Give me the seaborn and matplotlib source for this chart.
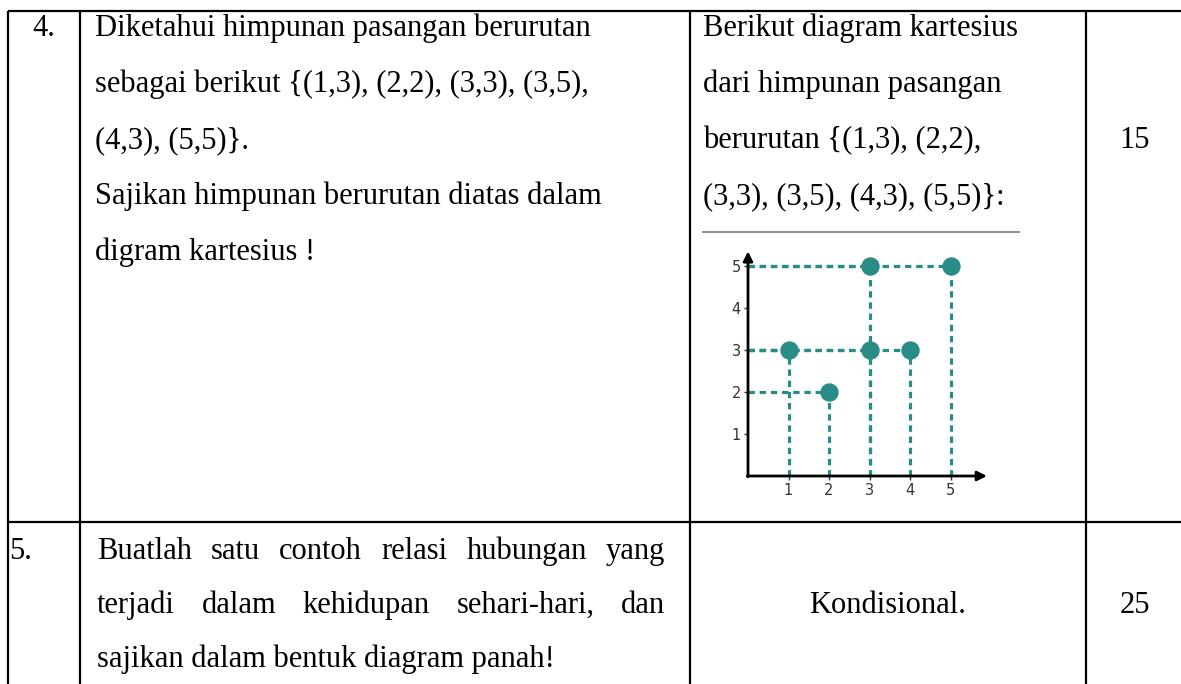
import matplotlib
matplotlib.use('Agg')
import matplotlib.pyplot as plt
import seaborn as sns

# himpunan pasangan berurutan (x, y)
px = [1, 2, 3, 3, 4, 5]
py = [3, 2, 3, 5, 3, 5]
ticks = [1, 2, 3, 4, 5]

row_no = ['4.', '5.']
soal_4 = ['Diketahui himpunan pasangan berurutan',
          'sebagai berikut {(1,3), (2,2), (3,3), (3,5),',
          '(4,3), (5,5)}.',
          'Sajikan himpunan berurutan diatas dalam',
          'digram kartesius !']
jawab_4 = ['Berikut diagram kartesius',
           'dari himpunan pasangan',
           'berurutan {(1,3), (2,2),',
           '(3,3), (3,5), (4,3), (5,5)}:']
soal_5 = ['Buatlah satu contoh relasi hubungan yang',
          'terjadi dalam kehidupan sehari-hari, dan',
          'sajikan dalam bentuk diagram panah!']
jawab_5 = 'Kondisional.'
skor = ['15', '25']

sns.set_theme(style='white')
plt.rcParams['font.family'] = ['Liberation Serif', 'DejaVu Serif']
plt.rcParams['text.color'] = 'black'

W, H = 1181, 684
fig = plt.figure(figsize=(W / 100, H / 100), dpi=100)
ax = fig.add_axes([0, 0, 1, 1])
ax.set_xlim(0, W)
ax.set_ylim(H, 0)
ax.axis('off')

FS = 22
teal = '#2a8c86'

# garis tabel
ax.hlines([11, 522], 8, W, color='black', lw=1.6)
ax.vlines([8, 80, 690, 1086], 11, H, color='black', lw=1.6)

# baris 4
base4 = [36, 92, 148, 204, 260]
ax.text(44, base4[0], row_no[0], fontsize=FS, ha='center', va='baseline')
for yb, s in zip(base4, soal_4):
    ax.text(95, yb, s, fontsize=FS, va='baseline')
for yb, s in zip(base4, jawab_4):
    ax.text(703, yb, s, fontsize=FS, va='baseline')
ax.text(1135, base4[2], skor[0], fontsize=FS, ha='center', va='baseline')
ax.hlines(232, 702, 1020, color='#7a7a7a', lw=1.2)

# baris 5 (rata kanan-kiri)
base5 = [559, 613, 667]
ax.text(9, base5[0], row_no[1], fontsize=FS, va='baseline')
renderer = fig.canvas.get_renderer()
x0, x1 = 97, 665
for i, (yb, s) in enumerate(zip(base5, soal_5)):
    words = s.split(' ')
    if i == len(soal_5) - 1:
        ax.text(x0, yb, s, fontsize=FS, va='baseline')
        continue
    arts = [ax.text(0, yb, w, fontsize=FS, va='baseline') for w in words]
    widths = [a.get_window_extent(renderer).width for a in arts]
    gap = (x1 - x0 - sum(widths)) / (len(words) - 1)
    xc = x0
    for a, w in zip(arts, widths):
        a.set_x(xc)
        xc += w + gap
ax.text(888, base5[1], jawab_5, fontsize=FS, ha='center', va='baseline')
ax.text(1135, base5[1], skor[1], fontsize=FS, ha='center', va='baseline')

# diagram kartesius
ox, oy, ux, uy = 748, 476, 40.5, 42
xmax, ymax = 5.9, 5.35
cax = fig.add_axes([ox / W, 1 - oy / H, xmax * ux / W, ymax * uy / H])
cax.set_xlim(0, xmax)
cax.set_ylim(0, ymax)
cax.patch.set_alpha(0)
for sp in cax.spines.values():
    sp.set_visible(False)

dash = (0, (2.0, 1.5))
cax.hlines(py, 0, px, colors=teal, linestyles=dash, lw=2.3)
cax.vlines(px, 0, py, colors=teal, linestyles=dash, lw=2.3)
sns.scatterplot(x=px, y=py, s=150, color=teal, edgecolor=teal, zorder=3, ax=cax, clip_on=False)

arrow = dict(arrowstyle='-|>', color='black', lw=2, mutation_scale=14, shrinkA=0, shrinkB=0)
cax.annotate('', xy=(xmax, 0), xytext=(-0.02, 0), arrowprops=arrow, annotation_clip=False)
cax.annotate('', xy=(0, ymax), xytext=(0, -0.02), arrowprops=arrow, annotation_clip=False)

cax.set_xticks(ticks)
cax.set_yticks(ticks)
cax.set_xticklabels([str(t) for t in ticks], family='DejaVu Sans', color='#333')
cax.set_yticklabels([str(t) for t in ticks], family='DejaVu Sans', color='#333')
cax.tick_params(axis='both', length=3, width=1, color='#333', labelsize=10.5, pad=2,
                bottom=True, left=True)

fig.savefig('out.png', dpi=100)
